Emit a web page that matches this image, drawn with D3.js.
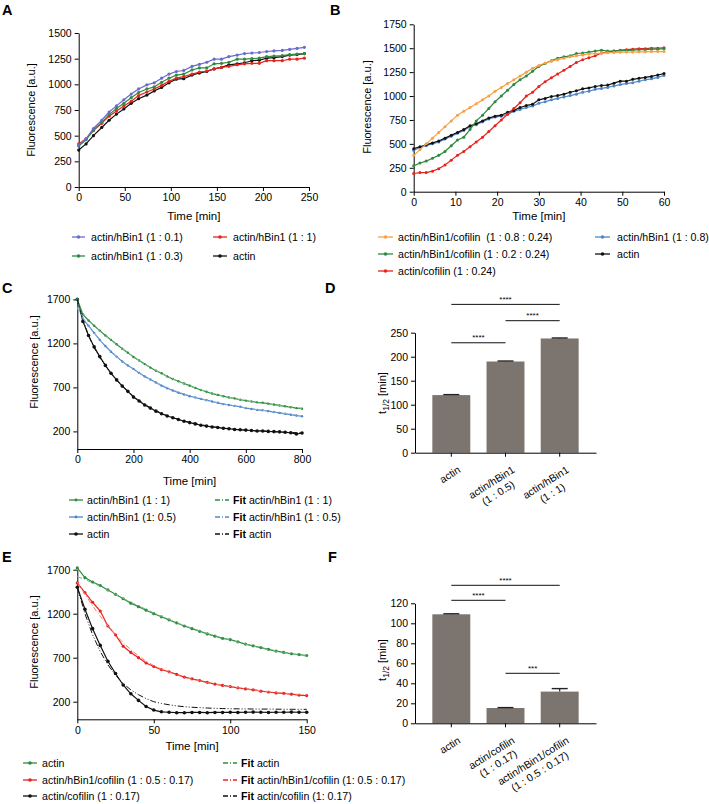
<!DOCTYPE html>
<html><head><meta charset="utf-8">
<script src="https://cdn.jsdelivr.net/npm/d3@7"></script>
<style>body{margin:0;background:#fff} text{font-family:"Liberation Sans",Arial,sans-serif}</style>
</head><body><svg id="c" width="709" height="804"></svg>
<script>
// ---------- Colours ----------
const C_PURPLE = "#6a6ad0", C_RED = "#e8231d", C_GREEN = "#2f8a3f", C_BLACK = "#111111",
      C_ORANGE = "#f7a046", C_BLUE = "#4d86c6", C_BAR = "#7b746f";

// ---------- Panel A data ----------
const timeA = [0,8,16,25,33,41,49,57,65,74,82,90,98,106,114,123,131,139,147,155,163,172,180,188,196,204,212,221,229,237,245];
const aBin01 = [410,470,570,650,730,790,850,905,955,995,1015,1060,1100,1125,1135,1175,1195,1215,1245,1245,1270,1285,1300,1305,1310,1320,1325,1330,1340,1350,1360];
const aBin03 = [400,460,555,630,705,765,815,870,920,955,975,1020,1060,1090,1100,1140,1160,1160,1200,1205,1215,1245,1245,1250,1255,1270,1275,1280,1290,1295,1300];
const aBin1  = [420,470,550,620,690,740,790,835,890,925,955,990,1030,1060,1075,1100,1120,1130,1150,1165,1175,1190,1200,1205,1205,1230,1230,1230,1245,1245,1255];
const aActin = [360,420,500,580,650,710,760,815,860,895,935,970,1015,1050,1055,1090,1110,1125,1150,1165,1190,1200,1210,1230,1235,1255,1260,1270,1285,1290,1300];
const xTicksA = [0,50,100,150,200,250], yTicksA = [0,250,500,750,1000,1250,1500];

// ---------- Panel B data ----------
const timeB = [0,1.5,3,4.5,6,7.5,9,10.5,12,13.5,15,16.5,18,19.5,21,22.5,24,25.5,27,28.5,30,31.5,33,34.5,36,37.5,39,40.5,42,43.5,45,46.5,48,49.5,51,52.5,54,55.5,57,58.5,60];
const bOrange = [380,440,500,560,620,680,740,800,840,880,920,960,1000,1050,1090,1130,1170,1210,1250,1290,1320,1345,1365,1380,1395,1410,1420,1430,1440,1445,1450,1452,1455,1458,1460,1460,1462,1462,1465,1465,1465];
const bGreen  = [270,300,320,350,380,420,480,540,570,650,740,800,870,940,1000,1060,1120,1170,1210,1260,1310,1340,1370,1395,1410,1420,1445,1450,1460,1470,1480,1470,1470,1475,1475,1480,1485,1485,1490,1490,1495];
const bRed    = [190,200,200,215,240,280,330,380,420,470,520,570,630,690,750,810,870,930,1000,1040,1100,1150,1190,1230,1270,1310,1350,1380,1400,1420,1450,1460,1470,1480,1485,1490,1495,1495,1500,1500,1505];
const bBlue   = [430,465,480,500,520,550,580,610,640,680,700,730,760,780,790,810,840,860,880,895,925,940,960,975,990,1005,1020,1040,1050,1070,1080,1090,1105,1120,1130,1140,1155,1170,1180,1195,1215];
const bActin  = [450,470,490,510,530,560,590,620,650,690,710,740,770,790,800,830,850,880,900,915,960,975,995,1005,1020,1040,1055,1075,1085,1100,1110,1115,1135,1155,1155,1175,1185,1195,1205,1220,1235];
const xTicksB = [0,10,20,30,40,50,60], yTicksB = [0,250,500,750,1000,1250,1500,1750];

// ---------- Panel C data ----------
const timeC = [0,20,40,60,80,100,120,140,160,180,200,220,240,260,280,300,320,340,360,380,400,420,440,460,480,500,520,540,560,580,600,620,640,660,680,700,720,740,760,780,800];
const cBin1   = [1700,1530,1460,1400,1345,1290,1240,1190,1140,1095,1045,1005,965,925,890,860,825,795,770,745,720,695,670,650,630,615,600,585,575,560,550,540,530,525,515,505,495,485,475,465,458];
const cBin05  = [1700,1480,1400,1320,1240,1170,1105,1050,995,950,910,865,825,790,755,720,690,665,640,620,600,585,570,555,540,525,510,500,490,480,465,455,445,440,430,420,410,400,390,380,372];
const cActin  = [1700,1450,1290,1160,1050,950,860,785,715,655,590,545,500,465,430,400,375,355,335,315,300,285,270,260,250,245,235,230,222,218,215,210,205,205,200,198,195,190,185,170,182];
const cFitBin1  = [1620,1540,1465,1400,1340,1285,1235,1185,1140,1095,1050,1005,965,928,892,858,826,796,768,742,717,694,672,652,633,616,600,585,572,559,548,537,527,518,510,502,494,486,478,470,462];
const cFitBin05 = [1600,1490,1400,1318,1242,1172,1108,1050,997,948,903,862,824,789,756,726,698,672,648,626,606,588,571,555,540,526,513,501,490,479,468,458,448,439,430,421,412,403,394,385,377];
const cFitActin = [1700,1470,1290,1150,1040,945,860,785,718,658,600,552,508,470,436,406,380,357,337,319,303,289,276,265,255,246,238,231,225,219,214,210,206,202,199,196,193,190,188,186,184];
const xTicksC = [0,200,400,600,800], yTicksC = [200,700,1200,1700];

// ---------- Panel D data ----------
const catsD = [["actin"],["actin/hBin1","(1 : 0.5)"],["actin/hBin1","(1 : 1)"]];
const valsD = [120,190,238];
const errsD = [1,1,1];
const sigD = [[0,2,309,"****"],[1,2,275,"****"],[0,1,229,"****"]];
const yTicksD = [0,50,100,150,200,250];

// ---------- Panel E data ----------
const timeE = [0,5,10,15,20,25,30,35,40,45,50,55,60,65,70,75,80,85,90,95,100,105,110,115,120,125,130,135,140,145,150];
const eActin  = [1720,1610,1560,1520,1470,1420,1370,1320,1280,1240,1200,1165,1130,1095,1060,1030,1000,970,945,920,905,880,855,835,815,795,775,760,745,735,725];
const eBinCof = [1550,1440,1330,1230,1060,960,830,760,700,640,600,565,540,510,480,460,440,420,400,385,372,358,345,335,320,310,300,295,285,275,270];
const eCof    = [1500,1250,1030,840,660,520,390,290,215,145,105,85,80,75,75,78,78,75,78,78,80,78,80,82,80,78,80,80,82,80,80];
const eFitActin  = [1620,1590,1550,1510,1465,1420,1375,1330,1290,1250,1210,1170,1135,1100,1065,1035,1005,975,950,925,900,877,855,832,811,791,774,758,743,730,718];
const eFitBinCof = [1560,1420,1290,1170,1060,960,870,790,720,660,610,570,535,505,478,455,435,417,401,386,372,358,346,335,324,314,305,297,289,282,276];
const eFitCof    = [1500,1200,960,770,620,500,405,335,280,235,200,180,165,152,143,137,132,128,125,122,120,119,118,117,116,116,115,114,114,113,113];
const xTicksE = [0,50,100,150], yTicksE = [200,700,1200,1700];

// ---------- Panel F data ----------
const catsF = [["actin"],["actin/cofilin","(1 : 0.17)"],["actin/hBin1/cofilin","(1 : 0.5 : 0.17)"]];
const valsF = [109,15.3,31.7];
const errsF = [0.5,0.4,3];
const sigF = [[0,2,138,"****"],[0,1,123,"****"],[1,2,50,"***"]];
const yTicksF = [0,20,40,60,80,100,120];

// ================= drawing =================
const svg = d3.select("#c");
const FONT = '"Liberation Sans", Arial, sans-serif';
const TICK_FS = 10.5, LEG_FS = 10.6, TITLE_FS = 11.5;

function styleAxis(a) {
  a.attr("font-family", FONT).attr("font-size", TICK_FS);
  a.selectAll("path,line").attr("stroke", "#000").attr("stroke-width", 1);
  a.selectAll("text").attr("fill", "#000");
}

function panelLabel(x, y, s) {
  svg.append("text").attr("x", x).attr("y", y).attr("font-size", 14.5).attr("font-weight", "bold").text(s);
}

function yTitleText(x, y, sub) {
  const t = svg.append("text").attr("transform", `translate(${x},${y}) rotate(-90)`)
    .attr("text-anchor", "middle").attr("font-size", 11);
  if (sub) {
    t.append("tspan").text("t");
    t.append("tspan").attr("font-size", 8.5).attr("dy", 3).text("1/2");
    t.append("tspan").attr("dy", -3).text(" [min]");
  } else t.text("Fluorescence [a.u.]");
}

function linePanel(o) {
  const g = svg.append("g");
  const x = d3.scaleLinear().domain(o.xDom).range([o.left, o.right]);
  const y = d3.scaleLinear().domain(o.yDom).range([o.bottom, o.top]);
  const ax = g.append("g").attr("transform", `translate(0,${o.bottom})`)
    .call(d3.axisBottom(x).tickValues(o.xTicks).tickFormat(d3.format("d")).tickSize(4).tickSizeOuter(0).tickPadding(3));
  const ay = g.append("g").attr("transform", `translate(${o.left},0)`)
    .call(d3.axisLeft(y).tickValues(o.yTicks).tickFormat(d3.format("d")).tickSize(4).tickSizeOuter(0).tickPadding(3));
  styleAxis(ax); styleAxis(ay);
  const line = d3.line().x(d => x(d[0])).y(d => y(d[1]));
  o.series.forEach(s => {
    const pts = s.t.map((t, i) => [t, s.v[i]]);
    g.append("path").datum(pts).attr("d", line).attr("fill", "none")
      .attr("stroke", s.color).attr("stroke-width", s.w || 1.2)
      .attr("stroke-dasharray", s.dash || null).attr("opacity", s.op || 1);
    if (s.r) g.append("g").selectAll("circle").data(pts).join("circle")
      .attr("cx", d => x(d[0])).attr("cy", d => y(d[1])).attr("r", s.r).attr("fill", s.color);
  });
  svg.append("text").attr("x", (o.left + o.right) / 2).attr("y", o.xTitleY)
    .attr("text-anchor", "middle").attr("font-size", TITLE_FS).text("Time [min]");
  yTitleText(o.yTitleX, o.yTitleY, false);
}

function legendItem(x1, x2, tx, y, color, label, opts = {}) {
  const g = svg.append("g");
  g.append("line").attr("x1", x1).attr("x2", x2).attr("y1", y).attr("y2", y)
    .attr("stroke", color).attr("stroke-width", 1.3).attr("stroke-dasharray", opts.dash || null);
  if (!opts.dash) g.append("circle").attr("cx", (x1 + x2) / 2).attr("cy", y).attr("r", opts.r || 1.8).attr("fill", color);
  const t = g.append("text").attr("x", tx).attr("y", y + 3.8).attr("font-size", LEG_FS).style("white-space", "pre");
  if (opts.fit) { t.append("tspan").attr("font-weight", "bold").text("Fit"); t.append("tspan").text(" " + label); }
  else t.text(label);
}

function barPanel(o) {
  const g = svg.append("g");
  const x = d3.scaleBand().domain(d3.range(o.vals.length)).range([415, 596]).paddingInner(0.3).paddingOuter(0.32);
  const y = d3.scaleLinear().domain(o.yDom).range([o.bottom, o.top]);
  g.selectAll("rect").data(o.vals).join("rect")
    .attr("x", (d, i) => x(i)).attr("width", x.bandwidth())
    .attr("y", d => y(d)).attr("height", d => y(0) - y(d)).attr("fill", C_BAR);
  o.vals.forEach((v, i) => {
    const cx = x(i) + x.bandwidth() / 2;
    g.append("line").attr("x1", cx).attr("x2", cx).attr("y1", y(v)).attr("y2", y(v + o.errs[i])).attr("stroke", "#222").attr("stroke-width", 1.2);
    g.append("line").attr("x1", cx - 8).attr("x2", cx + 8).attr("y1", y(v + o.errs[i])).attr("y2", y(v + o.errs[i])).attr("stroke", "#222").attr("stroke-width", 1.4);
  });
  const ax = g.append("g").attr("transform", `translate(0,${o.bottom})`)
    .call(d3.axisBottom(x).tickSize(4).tickSizeOuter(0).tickFormat(""));
  const ay = g.append("g").attr("transform", `translate(415,0)`)
    .call(d3.axisLeft(y).tickValues(o.yTicks).tickSize(4).tickSizeOuter(0).tickPadding(3));
  styleAxis(ax); styleAxis(ay);
  // rotated category labels
  o.cats.forEach((lines, i) => {
    const cx = x(i) + x.bandwidth() / 2;
    const lg = g.append("g").attr("transform", `translate(${cx + 10},${o.bottom + 19}) rotate(-32)`);
    const t1 = lg.append("text").attr("text-anchor", "end").attr("font-size", TICK_FS).text(lines[0]);
    if (lines[1]) {
      const w = t1.node().getComputedTextLength();
      lg.append("text").attr("text-anchor", "middle").attr("x", -w / 2).attr("y", 12.5).attr("font-size", TICK_FS).text(lines[1]);
    }
  });
  // significance
  o.sig.forEach(([a, b, v, s]) => {
    const xa = x(a) + x.bandwidth() / 2, xb = x(b) + x.bandwidth() / 2;
    g.append("line").attr("x1", xa).attr("x2", xb).attr("y1", y(v)).attr("y2", y(v)).attr("stroke", "#111").attr("stroke-width", 1);
    g.append("text").attr("x", (xa + xb) / 2).attr("y", y(v) - 2.5).attr("text-anchor", "middle").attr("font-size", 8).text(s);
  });
  yTitleText(386, o.yTitleY, true);
}

// ---- Panel A ----
panelLabel(2, 15, "A");
linePanel({left: 78.7, right: 309, bottom: 187, top: 33, xDom: [0, 250], yDom: [0, 1500],
  xTicks: xTicksA, yTicks: yTicksA, xTitleY: 220, yTitleX: 35, yTitleY: 110,
  series: [
    {t: timeA, v: aActin, color: C_BLACK, r: 1.6},
    {t: timeA, v: aBin1, color: C_RED, r: 1.6},
    {t: timeA, v: aBin03, color: C_GREEN, r: 1.6},
    {t: timeA, v: aBin01, color: C_PURPLE, r: 1.6}]});
legendItem(72, 85, 91, 237, C_PURPLE, "actin/hBin1 (1 : 0.1)");
legendItem(72, 85, 91, 256, C_GREEN, "actin/hBin1 (1 : 0.3)");
legendItem(213, 227, 233, 237, C_RED, "actin/hBin1 (1 : 1)");
legendItem(213, 227, 233, 256, C_BLACK, "actin");

// ---- Panel B ----
panelLabel(330, 15, "B");
linePanel({left: 413.7, right: 664, bottom: 191.7, top: 24.3, xDom: [0, 60], yDom: [0, 1750],
  xTicks: xTicksB, yTicks: yTicksB, xTitleY: 220, yTitleX: 371, yTitleY: 107,
  series: [
    {t: timeB, v: bBlue, color: C_BLUE, r: 1.5},
    {t: timeB, v: bActin, color: C_BLACK, r: 1.5},
    {t: timeB, v: bRed, color: C_RED, r: 1.5},
    {t: timeB, v: bGreen, color: C_GREEN, r: 1.5},
    {t: timeB, v: bOrange, color: C_ORANGE, r: 1.5}]});
legendItem(378, 393, 398, 237, C_ORANGE, "actin/hBin1/cofilin  (1 : 0.8 : 0.24)");
legendItem(378, 393, 398, 254, C_GREEN, "actin/hBin1/cofilin (1 : 0.2 : 0.24)");
legendItem(378, 393, 398, 271, C_RED, "actin/cofilin (1 : 0.24)");
legendItem(595, 610, 617, 237, C_BLUE, "actin/hBin1 (1 : 0.8)");
legendItem(595, 610, 617, 254, C_BLACK, "actin");

// ---- Panel C ----
panelLabel(2, 293, "C");
linePanel({left: 77.3, right: 302, bottom: 449, top: 299.4, xDom: [0, 800], yDom: [0, 1700],
  xTicks: xTicksC, yTicks: yTicksC, xTitleY: 485, yTitleX: 38, yTitleY: 362,
  series: [
    {t: timeC, v: cActin, color: C_BLACK, r: 1.8},
    {t: timeC, v: cBin05, color: C_BLUE, r: 1.2},
    {t: timeC, v: cBin1, color: C_GREEN, r: 1.2},
    {t: timeC, v: cFitActin, color: C_BLACK, w: 1, dash: "5,2,1,2"},
    {t: timeC, v: cFitBin05, color: "#8fb3e0", w: 1, dash: "5,2,1,2"},
    {t: timeC, v: cFitBin1, color: "#7cc28a", w: 1, dash: "5,2,1,2"}]});
legendItem(69, 83, 87, 500, C_GREEN, "actin/hBin1 (1 : 1)", {r: 1.4});
legendItem(69, 83, 87, 517, C_BLUE, "actin/hBin1 (1: 0.5)", {r: 1.4});
legendItem(69, 83, 87, 534, C_BLACK, "actin");
legendItem(215, 229, 233, 500, C_GREEN, "actin/hBin1 (1 : 1)", {dash: "5,2,1,2", fit: true});
legendItem(215, 229, 233, 517, C_BLUE, "actin/hBin1 (1 : 0.5)", {dash: "5,2,1,2", fit: true});
legendItem(215, 229, 233, 534, C_BLACK, "actin", {dash: "5,2,1,2", fit: true});

// ---- Panel D ----
panelLabel(325, 293, "D");
barPanel({vals: valsD, errs: errsD, cats: catsD, sig: sigD, yDom: [0, 250], yTicks: yTicksD,
  bottom: 452.7, top: 332.7, yTitleY: 393});

// ---- Panel E ----
panelLabel(2, 562, "E");
linePanel({left: 77.3, right: 306.7, bottom: 719.3, top: 569.7, xDom: [0, 150], yDom: [0, 1700],
  xTicks: xTicksE, yTicks: yTicksE, xTitleY: 750, yTitleX: 38, yTitleY: 642,
  series: [
    {t: timeE, v: eActin, color: C_GREEN, r: 1.6},
    {t: timeE, v: eBinCof, color: C_RED, r: 1.6},
    {t: timeE, v: eCof, color: C_BLACK, r: 1.8},
    {t: timeE, v: eFitActin, color: "#6fbf7e", w: 1, dash: "5,2,1,2"},
    {t: timeE, v: eFitBinCof, color: "#f07a70", w: 1, dash: "5,2,1,2"},
    {t: timeE, v: eFitCof, color: C_BLACK, w: 1, dash: "6,2,1,2,1,2"}]});
legendItem(23, 37, 42, 763, C_GREEN, "actin");
legendItem(23, 37, 42, 780, C_RED, "actin/hBin1/cofilin (1 : 0.5 : 0.17)");
legendItem(23, 37, 42, 796, C_BLACK, "actin/cofilin (1 : 0.17)");
legendItem(223, 237, 241, 763, C_GREEN, "actin", {dash: "5,2,1,2", fit: true});
legendItem(223, 237, 241, 780, C_RED, "actin/hBin1/cofilin (1: 0.5 : 0.17)", {dash: "5,2,1,2", fit: true});
legendItem(223, 237, 241, 796, C_BLACK, "actin/cofilin (1: 0.17)", {dash: "5,2,1,2", fit: true});

// ---- Panel F ----
panelLabel(328, 562, "F");
barPanel({vals: valsF, errs: errsF, cats: catsF, sig: sigF, yDom: [0, 120], yTicks: yTicksF,
  bottom: 723.3, top: 603.3, yTitleY: 660});
</script>
</body></html>
